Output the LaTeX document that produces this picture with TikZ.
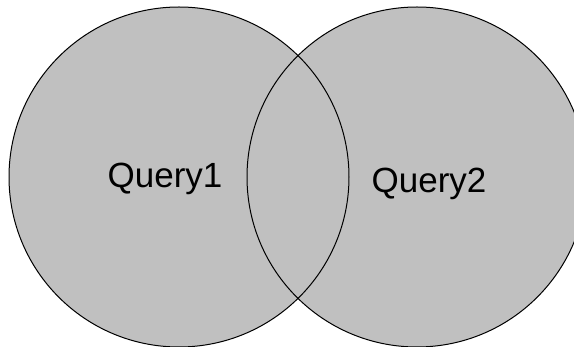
\documentclass[tikz,border=0pt]{standalone}
\usepackage{fontspec}
\setmainfont{Liberation Sans}
\definecolor{setgray}{RGB}{192,192,192}
\tikzset{
  setfill/.style={fill=setgray},
  setline/.style={draw=black, line width=1pt},
  setlabel/.style={font=\fontsize{35}{42}\selectfont, anchor=base, inner sep=0pt}
}
\begin{document}
\begin{tikzpicture}[x=1pt,y=-1pt]
  \useasboundingbox (0,0) rectangle (574,347);
  \clip (0,0) rectangle (574,347);
  % the two query sets
  \coordinate (c1) at (179,177);
  \coordinate (c2) at (417,177);
  \fill[setfill] (c1) circle (170pt) (c2) circle (170pt);
  \draw[setline] (c1) circle (170pt);
  \draw[setline] (c2) circle (170pt);
  % labels
  \draw
    (165,188) node[setlabel] (query1){Query1}
    (429,193) node[setlabel] (query2){Query2};
\end{tikzpicture}
\end{document}
